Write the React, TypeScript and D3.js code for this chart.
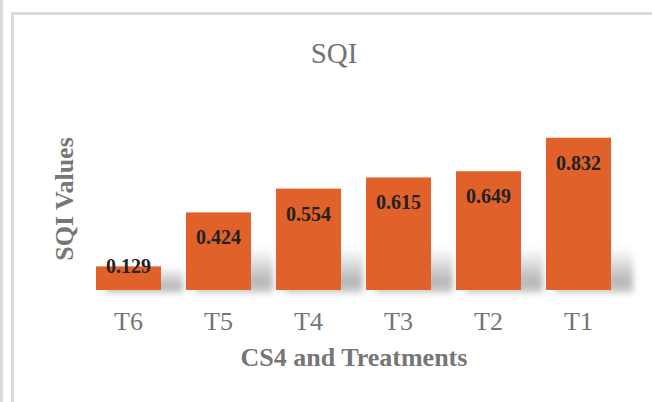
import React, { useEffect, useRef } from "react"
import * as d3 from "d3"

const categories = ["T6", "T5", "T4", "T3", "T2", "T1"]
const sqiValues = [0.129, 0.424, 0.554, 0.615, 0.649, 0.832]
const valueLabels = ["0.129", "0.424", "0.554", "0.615", "0.649", "0.832"]

const chartTitle = "SQI"
const xTitle = "CS4 and Treatments"
const yTitle = "SQI Values"

const W = 652
const H = 402
const serif = "'Times New Roman', 'Liberation Serif', serif"

export default function App() {
	const ref = useRef<SVGSVGElement | null>(null)

	useEffect(() => {
		const svg = d3.select(ref.current)
		svg.selectAll("*").remove()

		const base = 290
		const x = d3.scaleBand().domain(categories).range([83.5, 623.5]).paddingInner(0.278).paddingOuter(0.139)
		const y = d3.scaleLinear().domain([0, 0.9]).range([base, base - 0.9 * 183])

		const defs = svg.append("defs")
		const grad = defs.append("linearGradient").attr("id", "shadowGrad").attr("x1", 0).attr("y1", 0).attr("x2", 0).attr("y2", 1)
		grad.append("stop").attr("offset", "0%").attr("stop-color", "#7a7a7a").attr("stop-opacity", 0)
		grad.append("stop").attr("offset", "75%").attr("stop-color", "#7a7a7a").attr("stop-opacity", 0.55)
		grad.append("stop").attr("offset", "100%").attr("stop-color", "#7a7a7a").attr("stop-opacity", 0.35)
		defs.append("filter").attr("id", "blur").attr("x", "-30%").attr("y", "-30%").attr("width", "160%").attr("height", "160%")
			.append("feGaussianBlur").attr("stdDeviation", 3)

		// outer frame lines
		svg.append("rect").attr("x", 0).attr("y", 0).attr("width", 3).attr("height", H).attr("fill", "#dadada")
		svg.append("rect").attr("x", 12.5).attr("y", 13.5).attr("width", W + 20).attr("height", H + 20)
			.attr("fill", "#fff").attr("stroke", "#dadada").attr("stroke-width", 3)

		// title
		svg.append("text").attr("x", 334).attr("y", 63).attr("text-anchor", "middle")
			.attr("font-family", serif).attr("font-size", 29).attr("fill", "#747474").text(chartTitle)

		// bar shadows
		svg.append("g").selectAll("rect").data(sqiValues).enter().append("rect")
			.attr("x", (d, i) => (x(categories[i]) as number) + 10)
			.attr("width", x.bandwidth() + 12)
			.attr("y", d => Math.max(y(d), base - 42))
			.attr("height", d => base + 3 - Math.max(y(d), base - 42))
			.attr("fill", "url(#shadowGrad)")
			.attr("filter", "url(#blur)")

		// bars
		svg.append("g").selectAll("rect").data(sqiValues).enter().append("rect")
			.attr("x", (d, i) => x(categories[i]) as number)
			.attr("y", d => y(d))
			.attr("width", x.bandwidth())
			.attr("height", d => base - y(d))
			.attr("fill", "#E0612A")

		// value labels
		svg.append("g").selectAll("text").data(sqiValues).enter().append("text")
			.attr("x", (d, i) => (x(categories[i]) as number) + x.bandwidth() / 2)
			.attr("y", d => Math.min(y(d) + 32, base - 17))
			.attr("text-anchor", "middle")
			.attr("font-family", serif).attr("font-size", 20).attr("font-weight", "bold").attr("fill", "#222")
			.text((d, i) => valueLabels[i])

		// category ticks
		svg.append("g").selectAll("text").data(categories).enter().append("text")
			.attr("x", d => (x(d) as number) + x.bandwidth() / 2)
			.attr("y", 330)
			.attr("text-anchor", "middle")
			.attr("font-family", serif).attr("font-size", 26).attr("fill", "#747474")
			.text(d => d)

		// axis titles
		svg.append("text").attr("x", 354).attr("y", 366).attr("text-anchor", "middle")
			.attr("font-family", serif).attr("font-size", 26).attr("font-weight", "bold").attr("fill", "#767676").text(xTitle)
		svg.append("text").attr("transform", "translate(73,199) rotate(-90)").attr("text-anchor", "middle")
			.attr("font-family", serif).attr("font-size", 26).attr("font-weight", "bold").attr("fill", "#767676").text(yTitle)
	}, [])

	return (
		<svg ref={ref} width={W} height={H} style={{ position: "absolute", left: 0, top: 0, background: "#fff" }} />
	)
}
